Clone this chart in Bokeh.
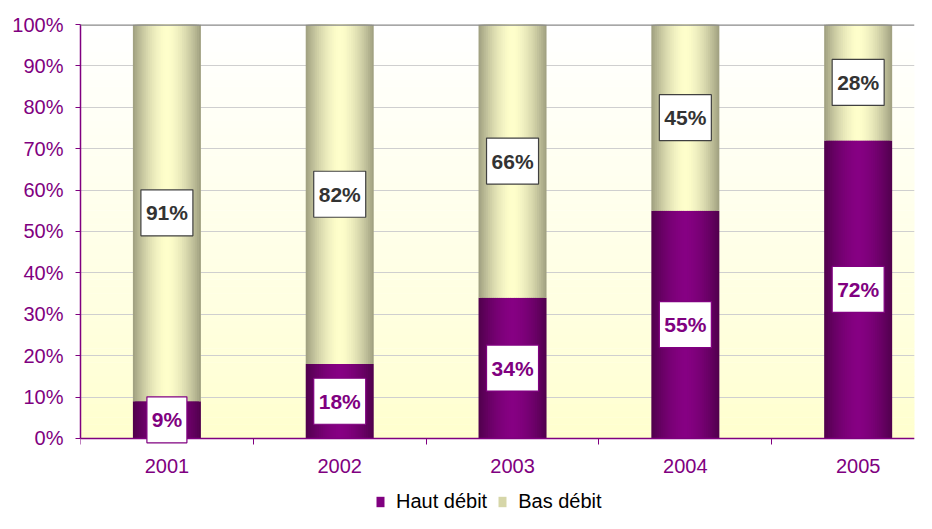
import numpy as np
from bokeh.plotting import figure
from bokeh.models import FixedTicker, Legend, LegendItem, Span, ColumnDataSource
from bokeh.core.properties import value
from bokeh.embed import file_html
from bokeh.resources import INLINE

# ---- data ----
years = ["2001", "2002", "2003", "2004", "2005"]
haut = [9, 18, 34, 55, 72]
bas = [91, 82, 66, 45, 28]
y_ticks = [0, 10, 20, 30, 40, 50, 60, 70, 80, 90, 100]
y_tick_labels = ["0%", "10%", "20%", "30%", "40%", "50%", "60%", "70%", "80%", "90%", "100%"]

PURPLE = "#800080"
FONT = "Liberation Sans"

xs = np.arange(len(years))
x_start, x_end = -0.5, 4.326
y_min = -18.116

p = figure(width=916, height=513, output_backend="svg", toolbar_location=None,
           x_range=(x_start, x_end), y_range=(y_min, 100),
           min_border_left=80, min_border_right=2, min_border_top=24, min_border_bottom=0)
p.outline_line_color = None
p.background_fill_color = "white"
p.border_fill_color = "white"

def mix(c1, c2, f):
    return "#%02x%02x%02x" % tuple(int(round(a + (b - a) * f)) for a, b in zip(c1, c2))

# background gradient (pale yellow bottom -> white top), inside 0..100
nb = 60
edges = np.linspace(0, 100, nb + 1)
bg_cols = [mix((0xFF, 0xFF, 0xCC), (0xFF, 0xFF, 0xFF), ((edges[i] + edges[i + 1]) / 200) ** 0.8) for i in range(nb)]
p.quad(left=x_start - 1, right=x_end + 1, bottom=edges[:-1], top=np.minimum(edges[1:] + 0.1, 100),
       fill_color=bg_cols, line_color=None, level="underlay")

p.ygrid.ticker = FixedTicker(ticks=y_ticks)
p.ygrid.grid_line_color = "#cfcfcf"
p.ygrid.grid_line_width = 1.2
p.xgrid.visible = False

p.add_layout(Span(location=100, dimension="width", line_color="#8a8a8a", line_width=2.5))

# bars with horizontal shading: nested layers, dark edges -> light centre
bar_w = 0.3935
M = 18
pe, pc = (0x52, 0x00, 0x4E), (0x86, 0x00, 0x83)
ke, kc = (0xA2, 0xA2, 0x82), (0xFF, 0xFF, 0xCC)
top_tot = [h + b for h, b in zip(haut, bas)]
for k in range(M):
    h = 1 - k / M
    f = 1 - h ** 1.7
    w = bar_w * h
    p.vbar(x=xs, width=w, bottom=0, top=haut, fill_color=mix(pe, pc, f), line_color=None)
    p.vbar(x=xs, width=w, bottom=haut, top=top_tot, fill_color=mix(ke, kc, f), line_color=None)

# axes (x axis drawn at y=0 inside the frame)
p.yaxis.ticker = FixedTicker(ticks=y_ticks)
p.yaxis.bounds = (0, 100)
p.yaxis.major_label_overrides = {t: l for t, l in zip(y_ticks, y_tick_labels)}
p.yaxis.major_label_text_font = FONT
p.yaxis.major_label_text_font_size = "20px"
p.yaxis.major_label_text_color = PURPLE
p.yaxis.axis_line_color = PURPLE
p.yaxis.axis_line_width = 1.5
p.yaxis.major_tick_line_color = PURPLE
p.yaxis.major_tick_out = 5
p.yaxis.major_tick_in = 0
p.yaxis.minor_tick_line_color = None
p.yaxis.major_label_standoff = 12

p.xaxis.fixed_location = 0
p.xaxis.ticker = FixedTicker(ticks=list(xs), minor_ticks=[i - 0.5 for i in range(len(years) + 1)])
p.xaxis.major_label_overrides = {int(i): y for i, y in zip(xs, years)}
p.xaxis.major_label_text_font = FONT
p.xaxis.major_label_text_font_size = "20px"
p.xaxis.major_label_text_color = PURPLE
p.xaxis.axis_line_color = PURPLE
p.xaxis.axis_line_width = 1.5
p.xaxis.major_tick_line_color = None
p.xaxis.major_tick_out = 0
p.xaxis.major_tick_in = 0
p.xaxis.minor_tick_line_color = PURPLE
p.xaxis.minor_tick_out = 6
p.xaxis.minor_tick_in = 0
p.xaxis.major_label_standoff = 15

# value labels
h_lab = ["%d%%" % v for v in haut]
b_lab = ["%d%%" % v for v in bas]
h_y = [v / 2 for v in haut]
b_y = [h + b / 2 for h, b in zip(haut, bas)]
h_w = [40 if len(s) < 3 else 52 for s in h_lab]
b_w = [40 if len(s) < 3 else 52 for s in b_lab]
p.rect(x=xs, y=h_y, width=h_w, height=46, width_units="screen", height_units="screen",
       fill_color="white", line_color=PURPLE, line_width=1.2, level="overlay")
p.rect(x=xs, y=b_y, width=b_w, height=46, width_units="screen", height_units="screen",
       fill_color="white", line_color="#404040", line_width=1.2, level="overlay")
p.text(x=xs, y=h_y, text=h_lab, text_align="center", text_baseline="middle",
       text_font=value(FONT), text_font_style="bold", text_font_size="21px", text_color=PURPLE,
       level="overlay")
p.text(x=xs, y=b_y, text=b_lab, text_align="center", text_baseline="middle",
       text_font=value(FONT), text_font_style="bold", text_font_size="21px", text_color="#333333",
       level="overlay")

# legend (proxy renderers: zero-height bars)
r1 = p.vbar(x="x", top="top", width=0.01, source=ColumnDataSource(dict(x=[xs[0]], top=[0])),
            fill_color=PURPLE, line_color=None)
r2 = p.vbar(x="x", top="top", width=0.01, source=ColumnDataSource(dict(x=[xs[0]], top=[0])),
            fill_color="#d6d6a8", line_color=None)
legend = Legend(items=[LegendItem(label="Haut débit", renderers=[r1]),
                       LegendItem(label="Bas débit", renderers=[r2])],
                location=(295, 0), orientation="horizontal",
                label_text_font=FONT, label_text_font_size="20px", label_text_color="black",
                glyph_width=10, glyph_height=13, label_standoff=11, spacing=10,
                padding=0, margin=0, border_line_color=None, background_fill_alpha=0)
p.add_layout(legend)

open("out.html", "w").write(file_html(p, INLINE))
